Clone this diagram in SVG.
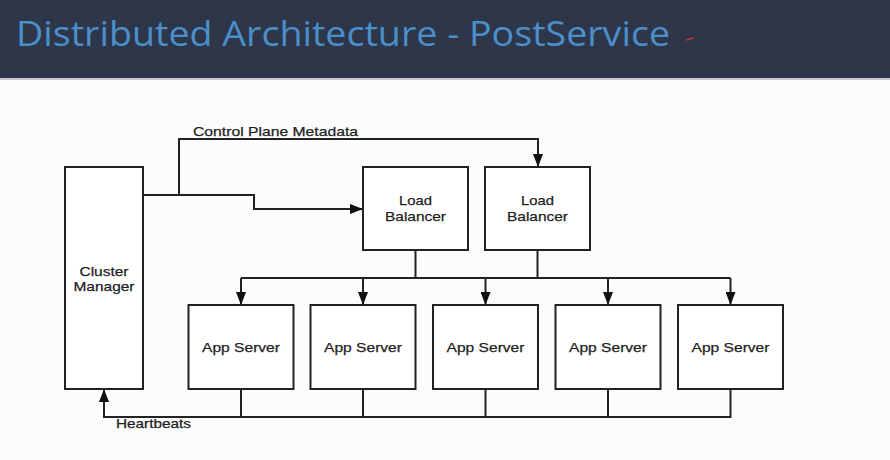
<svg xmlns="http://www.w3.org/2000/svg" width="890" height="460" viewBox="0 0 890 460">
<defs>
<marker id="arr" viewBox="0 0 13 10" refX="13" refY="5" markerWidth="13" markerHeight="10" markerUnits="userSpaceOnUse" orient="auto">
<path d="M0,0 L13,5 L0,10 Z" fill="#111"/>
</marker>
<style>
.box{fill:#ffffff;stroke:#222;stroke-width:2}
.lbl{font-family:"Liberation Sans",Arial,sans-serif;font-size:13.5px;fill:#1e1e1e;text-anchor:middle;stroke:#1e1e1e;stroke-width:0.25}
.ln{fill:none;stroke:#222;stroke-width:2}
.cl{font-family:"Liberation Sans",Arial,sans-serif;font-size:13.5px;fill:#1e1e1e;stroke:#1e1e1e;stroke-width:0.25}
</style>
</defs>
<rect x="0" y="0" width="890" height="460" fill="#fcfcfd"/>
<rect x="0" y="0" width="890" height="78" fill="#2e374a"/>
<rect x="0" y="78" width="890" height="2" fill="#c8c9cc"/>
<text x="16" y="46" font-family="'Open Sans','Noto Sans',sans-serif" font-size="35" fill="#4a8fc9" textLength="654" lengthAdjust="spacingAndGlyphs">Distributed Architecture - PostService</text>
<path d="M686,40 L694,38" stroke="#c0392b" stroke-width="1.5"/>

<g id="connectors">
<path class="ln" d="M143,195 L179,195 L179,139 L538,139 L538,167" marker-end="url(#arr)"/>
<path class="ln" d="M179,195 L254,195 L254,209 L363,209" marker-end="url(#arr)"/>
<path class="ln" d="M415.5,250 L415.5,278"/>
<path class="ln" d="M537.5,250 L537.5,278"/>
<path class="ln" d="M241,278 L730.5,278"/>
<path class="ln" d="M241,278 L241,305" marker-end="url(#arr)"/>
<path class="ln" d="M363,278 L363,305" marker-end="url(#arr)"/>
<path class="ln" d="M485.5,278 L485.5,305" marker-end="url(#arr)"/>
<path class="ln" d="M608,278 L608,305" marker-end="url(#arr)"/>
<path class="ln" d="M730.5,278 L730.5,305" marker-end="url(#arr)"/>
<path class="ln" d="M241,389 L241,417"/>
<path class="ln" d="M363,389 L363,417"/>
<path class="ln" d="M485.5,389 L485.5,417"/>
<path class="ln" d="M608,389 L608,417"/>
<path class="ln" d="M730.5,389 L730.5,417 L104,417 L104,389" marker-end="url(#arr)"/>
<text class="cl" x="193" y="136" textLength="165" lengthAdjust="spacingAndGlyphs">Control Plane Metadata</text>
<text class="cl" x="116" y="428" textLength="75" lengthAdjust="spacingAndGlyphs">Heartbeats</text>
</g>

<g id="cluster-manager">
<rect class="box" x="65" y="167" width="78" height="222"/>
<text class="lbl" x="104" y="275.5" textLength="49" lengthAdjust="spacingAndGlyphs">Cluster</text>
<text class="lbl" x="104" y="291" textLength="61" lengthAdjust="spacingAndGlyphs">Manager</text>
</g>
<g id="lb1">
<rect class="box" x="363" y="167" width="105" height="83"/>
<text class="lbl" x="415.5" y="205" textLength="33" lengthAdjust="spacingAndGlyphs">Load</text>
<text class="lbl" x="415.5" y="220.5" textLength="61" lengthAdjust="spacingAndGlyphs">Balancer</text>
</g>
<g id="lb2">
<rect class="box" x="485" y="167" width="105" height="83"/>
<text class="lbl" x="537.5" y="205" textLength="33" lengthAdjust="spacingAndGlyphs">Load</text>
<text class="lbl" x="537.5" y="220.5" textLength="61" lengthAdjust="spacingAndGlyphs">Balancer</text>
</g>
<g id="app1">
<rect class="box" x="188.5" y="305" width="105" height="84"/>
<text class="lbl" x="241" y="351.5" textLength="78" lengthAdjust="spacingAndGlyphs">App Server</text>
</g>
<g id="app2">
<rect class="box" x="310.5" y="305" width="105" height="84"/>
<text class="lbl" x="363" y="351.5" textLength="78" lengthAdjust="spacingAndGlyphs">App Server</text>
</g>
<g id="app3">
<rect class="box" x="433" y="305" width="105" height="84"/>
<text class="lbl" x="485.5" y="351.5" textLength="78" lengthAdjust="spacingAndGlyphs">App Server</text>
</g>
<g id="app4">
<rect class="box" x="555.5" y="305" width="105" height="84"/>
<text class="lbl" x="608" y="351.5" textLength="78" lengthAdjust="spacingAndGlyphs">App Server</text>
</g>
<g id="app5">
<rect class="box" x="678" y="305" width="105" height="84"/>
<text class="lbl" x="730.5" y="351.5" textLength="78" lengthAdjust="spacingAndGlyphs">App Server</text>
</g>
</svg>
